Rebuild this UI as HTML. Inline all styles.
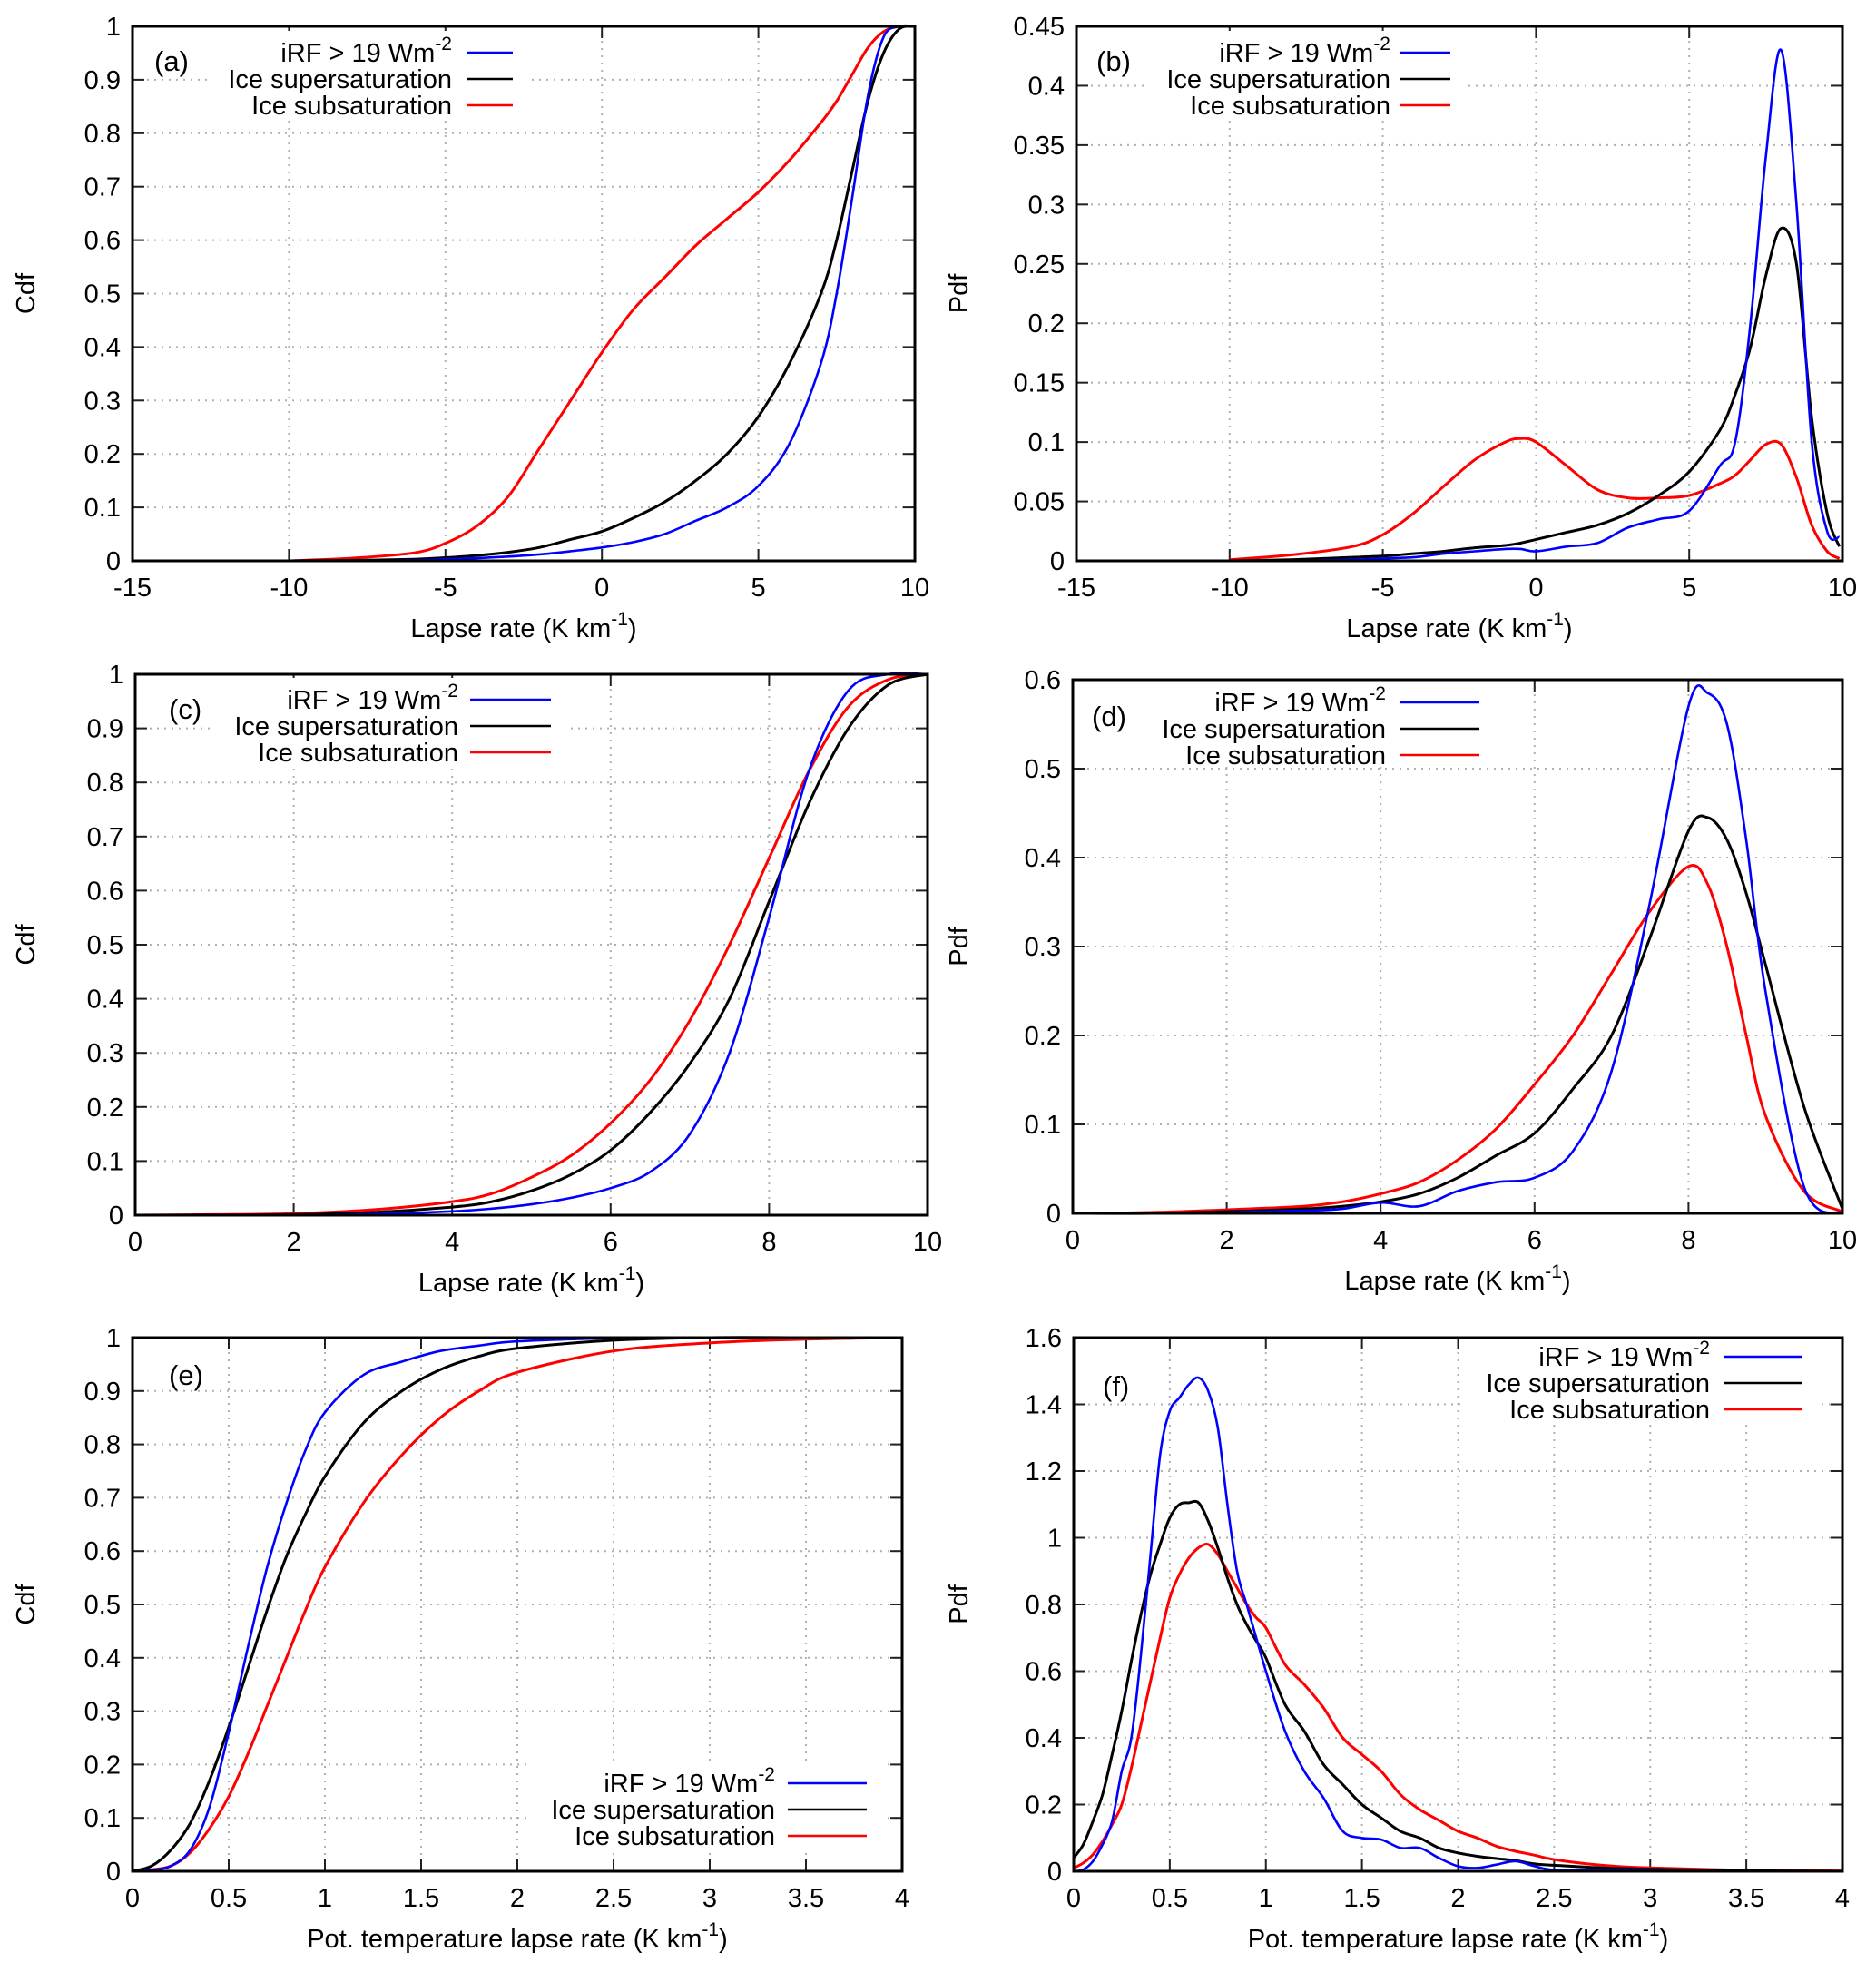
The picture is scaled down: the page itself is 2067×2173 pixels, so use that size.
<!DOCTYPE html>
<html><head><meta charset="utf-8"><style>
body{margin:0;background:#fff;}
svg{display:block;font-family:"Liberation Sans",sans-serif;}
</style></head><body>
<svg id="fig" width="2067" height="2173" viewBox="0 0 2067 2173" xmlns="http://www.w3.org/2000/svg"></svg>
<script>
// ---- Panel (a) data: CDF of lapse rate ----
const aX = [-10,-8,-6,-5,-4,-3,-2,-1,0,1,2,3,4,5,6,7,7.5,8,8.5,9,9.5,10];
const aRed = [0,0.005,0.015,0.033,0.065,0.12,0.21,0.30,0.39,0.47,0.53,0.59,0.64,0.69,0.75,0.82,0.86,0.91,0.96,0.99,1,1];
const aBlack = [0,0.001,0.003,0.006,0.01,0.016,0.025,0.04,0.055,0.08,0.11,0.15,0.2,0.27,0.37,0.5,0.6,0.73,0.86,0.95,0.995,1];
const aBlue = [0,0,0.001,0.003,0.005,0.008,0.012,0.018,0.025,0.035,0.05,0.075,0.1,0.14,0.22,0.37,0.5,0.68,0.87,0.98,1,1];
// ---- Panel (b) data: PDF of lapse rate ----
const bX = [-10,-8,-6,-5,-4,-3,-2,-1,-0.5,0,1,2,3,4,5,6,6.5,7,7.5,8,8.5,9,9.5,9.9];
const bRed = [0.001,0.005,0.012,0.022,0.04,0.063,0.085,0.1,0.103,0.1,0.08,0.06,0.053,0.053,0.055,0.065,0.072,0.085,0.098,0.098,0.07,0.03,0.008,0.002];
const bBlack = [0,0.001,0.003,0.004,0.006,0.008,0.011,0.013,0.015,0.018,0.024,0.03,0.04,0.055,0.075,0.11,0.14,0.18,0.24,0.28,0.25,0.12,0.04,0.012];
const bBlue = [0,0,0.001,0.002,0.003,0.006,0.008,0.01,0.01,0.008,0.012,0.015,0.028,0.035,0.042,0.08,0.1,0.2,0.34,0.43,0.3,0.1,0.025,0.02];
// ---- Panel (c) data ----
const cX = [0,1,2,3,4,4.5,5,5.5,6,6.5,7,7.5,8,8.5,9,9.5,10];
const cRed = [0,0.001,0.003,0.01,0.025,0.04,0.07,0.11,0.17,0.25,0.36,0.5,0.66,0.82,0.94,0.99,1];
const cBlack = [0,0,0.001,0.005,0.015,0.025,0.045,0.075,0.12,0.19,0.28,0.4,0.58,0.76,0.9,0.98,1];
const cBlue = [0,0,0,0.002,0.007,0.012,0.02,0.032,0.05,0.08,0.15,0.3,0.55,0.82,0.97,1,1];
// ---- Panel (d) data ----
const dX = [0,1,2,3,3.5,4,4.5,5,5.5,6,6.5,7,7.5,8,8.25,8.5,8.75,9,9.5,10];
const dRed = [0,0.001,0.004,0.008,0.013,0.022,0.035,0.06,0.095,0.145,0.2,0.27,0.34,0.39,0.37,0.3,0.2,0.11,0.025,0.002];
const dBlack = [0,0,0.002,0.005,0.008,0.013,0.022,0.04,0.065,0.09,0.14,0.2,0.31,0.43,0.445,0.42,0.36,0.28,0.12,0.005];
const dBlue = [0,0,0.001,0.003,0.005,0.012,0.008,0.025,0.035,0.04,0.07,0.16,0.35,0.57,0.585,0.55,0.42,0.25,0.03,0];
// ---- Panel (e) data ----
const eX = [0,0.1,0.2,0.3,0.4,0.5,0.6,0.7,0.8,0.9,1,1.2,1.4,1.6,1.8,2,2.5,3,3.5,4];
const eBlack = [0,0.01,0.04,0.09,0.17,0.27,0.38,0.49,0.59,0.67,0.74,0.84,0.9,0.94,0.965,0.98,0.995,1,1,1];
const eBlue = [0,0.002,0.01,0.04,0.12,0.26,0.42,0.57,0.69,0.79,0.86,0.93,0.955,0.975,0.985,0.993,0.999,1,1,1];
const eRed = [0,0.003,0.01,0.035,0.08,0.14,0.22,0.31,0.4,0.49,0.57,0.69,0.78,0.85,0.9,0.935,0.975,0.99,0.997,1];
// ---- Panel (f) data ----
const fX = [0,0.05,0.1,0.15,0.2,0.25,0.3,0.35,0.4,0.45,0.5,0.55,0.6,0.65,0.7,0.75,0.8,0.85,0.9,0.95,1,1.1,1.2,1.3,1.4,1.5,1.6,1.7,1.8,1.9,2,2.1,2.2,2.3,2.4,2.5,2.75,3,3.5,4];
const fBlue = [0,0.005,0.03,0.08,0.15,0.3,0.4,0.65,0.95,1.25,1.38,1.42,1.46,1.48,1.44,1.33,1.1,0.9,0.8,0.7,0.6,0.42,0.3,0.22,0.12,0.1,0.095,0.07,0.07,0.04,0.015,0.01,0.02,0.03,0.015,0.004,0.003,0.001,0,0];
const fBlack = [0.04,0.08,0.15,0.23,0.35,0.48,0.63,0.77,0.89,0.98,1.06,1.1,1.105,1.105,1.05,0.97,0.88,0.8,0.74,0.69,0.64,0.5,0.42,0.32,0.26,0.2,0.16,0.12,0.1,0.07,0.055,0.045,0.038,0.032,0.022,0.018,0.01,0.006,0.002,0];
const fRed = [0.01,0.025,0.05,0.09,0.14,0.2,0.31,0.44,0.57,0.7,0.82,0.89,0.94,0.97,0.98,0.95,0.9,0.85,0.8,0.76,0.73,0.62,0.56,0.49,0.4,0.35,0.3,0.23,0.185,0.153,0.12,0.1,0.075,0.06,0.048,0.035,0.018,0.01,0.003,0.001];
// tick labels
const ticksA_X = ["-15","-10","-5","0","5","10"];
const ticksCdfY = ["0","0.1","0.2","0.3","0.4","0.5","0.6","0.7","0.8","0.9","1"];
const ticksB_Y = ["0","0.05","0.1","0.15","0.2","0.25","0.3","0.35","0.4","0.45"];
const ticksC_X = ["0","2","4","6","8","10"];
const ticksD_Y = ["0","0.1","0.2","0.3","0.4","0.5","0.6"];
const ticksE_X = ["0","0.5","1","1.5","2","2.5","3","3.5","4"];
const ticksF_Y = ["0","0.2","0.4","0.6","0.8","1","1.2","1.4","1.6"];
const legendLabels = ["iRF > 19 Wm", "Ice supersaturation", "Ice subsaturation"];

const NS = "http://www.w3.org/2000/svg";
const svg = document.getElementById("fig");
const FS = 29;
function mk(tag, attrs, parent){
  const e = document.createElementNS(NS, tag);
  for (const k in attrs) e.setAttribute(k, attrs[k]);
  (parent||svg).appendChild(e);
  return e;
}
function smoothPath(pts){
  let d = "M" + pts[0][0].toFixed(1) + "," + pts[0][1].toFixed(1);
  for (let i=0;i<pts.length-1;i++){
    const p0=pts[Math.max(0,i-1)], p1=pts[i], p2=pts[i+1], p3=pts[Math.min(pts.length-1,i+2)];
    const c1x=p1[0]+(p2[0]-p0[0])/6, c1y=p1[1]+(p2[1]-p0[1])/6;
    const c2x=p2[0]-(p3[0]-p1[0])/6, c2y=p2[1]-(p3[1]-p1[1])/6;
    d += " C"+c1x.toFixed(1)+","+c1y.toFixed(1)+" "+c2x.toFixed(1)+","+c2y.toFixed(1)+" "+p2[0].toFixed(1)+","+p2[1].toFixed(1);
  }
  return d;
}

function panel(cfg){
  const g = mk("g", {});
  
  
  const {L,R,T,B,xmin,xmax,ymin,ymax} = cfg;
  const sx = v => L + (v - xmin) / (xmax - xmin) * (R - L);
  const sy = v => B - (v - ymin) / (ymax - ymin) * (B - T);
  cfg.xt.forEach(lab => {
    const v = parseFloat(lab), x = sx(v);
    if (x > L+1 && x < R-1) {
      const gl = mk("line", {x1:x,x2:x,y1:T,y2:B,stroke:"#b0b0b0","stroke-width":2,"stroke-dasharray":"2,6"}, g);
      
      
    }
    mk("line", {x1:x,x2:x,y1:B,y2:B-13,stroke:"#222","stroke-width":2}, g);
    mk("line", {x1:x,x2:x,y1:T,y2:T+13,stroke:"#222","stroke-width":2}, g);
    const t = mk("text", {x:x,y:B+39,"font-size":FS,"text-anchor":"middle",fill:"#000"}, g);
    t.textContent = lab;
    
    
  });
  cfg.yt.forEach(lab => {
    const v = parseFloat(lab), y = sy(v);
    if (y > T+1 && y < B-1) {
      const gl = mk("line", {x1:L,x2:R,y1:y,y2:y,stroke:"#b0b0b0","stroke-width":2,"stroke-dasharray":"2,6"}, g);
      
      
    }
    mk("line", {x1:L,x2:L+13,y1:y,y2:y,stroke:"#222","stroke-width":2}, g);
    mk("line", {x1:R,x2:R-13,y1:y,y2:y,stroke:"#222","stroke-width":2}, g);
    const t = mk("text", {x:L-13,y:y+10,"font-size":FS,"text-anchor":"end",fill:"#000"}, g);
    t.textContent = lab;
    
    
  });
  const lg = mk("g", {}, g);
  
  
  mk("rect", {x:cfg.legX-270,y:cfg.legY-24,width:(cfg.legL2-cfg.legX)+290,height:cfg.legDy*3+8,fill:"#fff"}, lg);
  const colors = ["#0000ff","#000000","#ff0000"];
  const names = ["irf-series","supersaturation-series","subsaturation-series"];
  [2,1,0].forEach(i => {
    const ys = cfg.series[i];
    const pts = cfg.x.map((v,k) => [sx(v), sy(ys[k])]);
    const p = mk("path", {d:smoothPath(pts),fill:"none",stroke:colors[i],"stroke-width":i==0?2.6:3,"stroke-linejoin":"round"}, g);
    
    
  });
  legendLabels.forEach((lab,i) => {
    const y = cfg.legY + i*cfg.legDy;
    const t = mk("text", {x:cfg.legX,y:y+10,"font-size":FS,"text-anchor":"end",fill:"#000"}, lg);
    
    
    t.textContent = lab;
    if (i==0){
      const s = mk("tspan", {dy:-13,"font-size":21}, t);
      s.textContent = "-2";
    }
    const ln = mk("line", {x1:cfg.legL1,x2:cfg.legL2,y1:y,y2:y,stroke:colors[i],"stroke-width":2.6}, lg);
    
    
  });
  const fr = mk("rect", {x:L,y:T,width:R-L,height:B-T,fill:"none",stroke:"#000","stroke-width":3}, g);
  
  
  const pl = mk("text", {x:cfg.plX,y:cfg.plY,"font-size":31,fill:"#000"}, g);
  pl.textContent = "(" + cfg.id + ")";
  
  
  const xt = mk("text", {x:(L+R)/2,y:B+84,"font-size":FS,"text-anchor":"middle",fill:"#000"}, g);
  xt.textContent = cfg.xlabel + " (K km";
  const sup = mk("tspan", {dy:-13,"font-size":21}, xt); sup.textContent = "-1";
  const cl = mk("tspan", {dy:13}, xt); cl.textContent = ")";
  
  
  const yx = cfg.ylabX, yy = (T+B)/2;
  const yt = mk("text", {x:yx,y:yy,"font-size":FS,"text-anchor":"middle",fill:"#000",transform:"rotate(-90 "+yx+" "+yy+")"}, g);
  yt.textContent = cfg.ylabel;
  
  
}

panel({id:"a",L:146,R:1008,T:29,B:618,xmin:-15,xmax:10,ymin:0,ymax:1,xt:ticksA_X,yt:ticksCdfY,
  x:aX,series:[aBlue,aBlack,aRed],legX:498,legY:58,legDy:29,legL1:514,legL2:565,plX:170,plY:78,
  xlabel:"Lapse rate",ylabel:"Cdf",ylabX:38});
panel({id:"b",L:1186,R:2030,T:29,B:618,xmin:-15,xmax:10,ymin:0,ymax:0.45,xt:ticksA_X,yt:ticksB_Y,
  x:bX,series:[bBlue,bBlack,bRed],legX:1532,legY:58,legDy:29,legL1:1543,legL2:1598,plX:1208,plY:78,
  xlabel:"Lapse rate",ylabel:"Pdf",ylabX:1066});
panel({id:"c",L:149,R:1022,T:743,B:1339,xmin:0,xmax:10,ymin:0,ymax:1,xt:ticksC_X,yt:ticksCdfY,
  x:cX,series:[cBlue,cBlack,cRed],legX:505,legY:771,legDy:29,legL1:518,legL2:607,plX:186,plY:792,
  xlabel:"Lapse rate",ylabel:"Cdf",ylabX:38});
panel({id:"d",L:1182,R:2030,T:749,B:1337,xmin:0,xmax:10,ymin:0,ymax:0.6,xt:ticksC_X,yt:ticksD_Y,
  x:dX,series:[dBlue,dBlack,dRed],legX:1527,legY:774,legDy:29,legL1:1543,legL2:1630,plX:1203,plY:800,
  xlabel:"Lapse rate",ylabel:"Pdf",ylabX:1066});
panel({id:"e",L:146,R:994,T:1474,B:2062,xmin:0,xmax:4,ymin:0,ymax:1,xt:ticksE_X,yt:ticksCdfY,
  x:eX,series:[eBlue,eBlack,eRed],legX:854,legY:1965,legDy:29,legL1:868,legL2:955,plX:186,plY:1526,
  xlabel:"Pot. temperature lapse rate",ylabel:"Cdf",ylabX:38});
panel({id:"f",L:1183,R:2030,T:1474,B:2062,xmin:0,xmax:4,ymin:0,ymax:1.6,xt:ticksE_X,yt:ticksF_Y,
  x:fX,series:[fBlue,fBlack,fRed],legX:1884,legY:1495,legDy:29,legL1:1899,legL2:1985,plX:1215,plY:1538,
  xlabel:"Pot. temperature lapse rate",ylabel:"Pdf",ylabX:1066});
</script>
</body></html>
